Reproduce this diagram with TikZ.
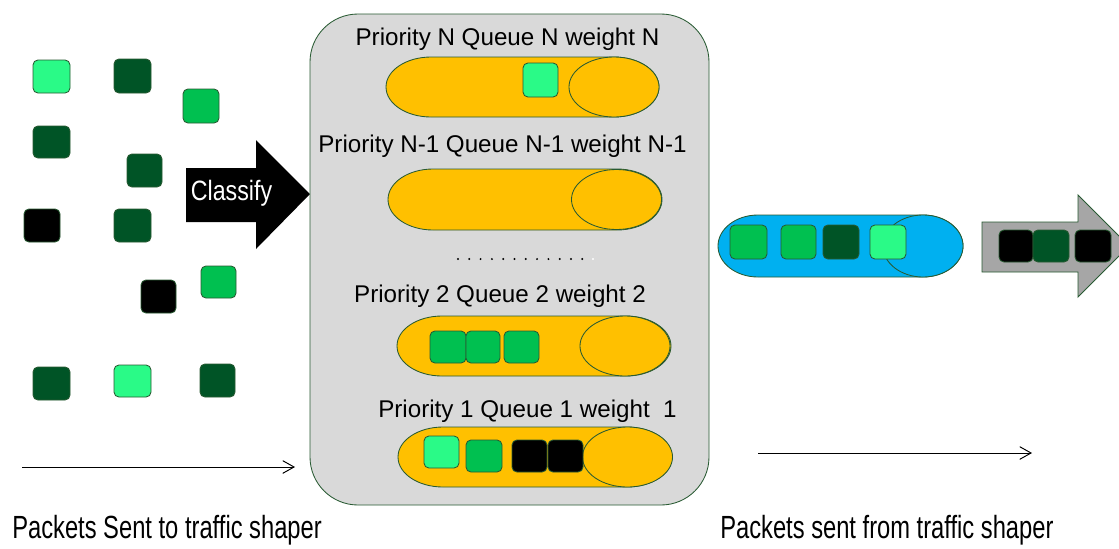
\documentclass[tikz,border=0pt]{standalone}
\usepackage{fontspec}
\setmainfont{Liberation Sans}
\usetikzlibrary{shapes.geometric,arrows.meta}
\definecolor{lgreen}{RGB}{42,250,135}
\definecolor{mgreen}{RGB}{0,192,80}
\definecolor{dgreen}{RGB}{0,84,38}
\definecolor{gold}{RGB}{255,192,0}
\definecolor{qblue}{RGB}{0,176,240}
\definecolor{boxgray}{RGB}{217,217,217}
\definecolor{arrgray}{RGB}{166,166,166}
\definecolor{edge}{RGB}{40,90,50}
\newcommand{\pkt}[5]{\draw[pkt, fill=#1] (#2,#3) rectangle (#4,#5);}
\newcommand{\capsule}[6]{\path[#1] ({#2+#6},#4) -- ({#3-#6},#4)
  arc[start angle=90,end angle=-90,x radius={#6*0.025cm},y radius={(#5-#4)/2*0.025cm}]
  -- ({#2+#6},#5)
  arc[start angle=270,end angle=90,x radius={#6*0.025cm},y radius={(#5-#4)/2*0.025cm}] -- cycle;}
\begin{document}
\begin{tikzpicture}[x=0.025cm,y=-0.025cm,
  pkt/.style={draw=edge, line width=0.6pt, rounded corners=3.5pt},
  qbody/.style={draw=edge, line width=0.6pt, fill=gold},
  headell/.style={ellipse, draw=edge, line width=0.6pt, fill=gold, minimum width=2.25cm, minimum height=1.5cm, inner sep=0pt},
  lbl/.style={font=\fontsize{17.2}{20}\selectfont, anchor=base, inner sep=0pt},
  botlbl/.style={font=\fontsize{22.8}{26}\selectfont, anchor=base west, inner sep=0pt},
  flow/.style={line width=0.7pt, -{Straight Barb[length=8pt,width=9pt]}},
  bigarrow/.style={line width=0.6pt, draw=edge}]
\path[use as bounding box, clip] (0,0) rectangle (1119,548);
\fill[white] (0,0) rectangle (1119,548);

% incoming packets
\pkt{lgreen}{33}{60}{70}{93}
\pkt{dgreen}{114}{59}{151}{93}
\pkt{mgreen}{183}{89}{219}{123}
\pkt{dgreen}{33}{126}{70}{158}
\pkt{dgreen}{127}{154}{162}{187}
\pkt{black}{24}{209}{60}{242}
\pkt{dgreen}{114}{209}{151}{242}
\pkt{black}{141}{280}{176}{313}
\pkt{mgreen}{201}{266}{236}{298}
\pkt{dgreen}{33}{367}{70}{400}
\pkt{lgreen}{114}{365}{151}{397}
\pkt{dgreen}{200}{364}{235}{397}

% classify arrow
\fill[black] (186,168) -- (256,168) -- (256,140) -- (310,194) -- (256,249) -- (256,222) -- (186,222) -- cycle;
\node[text=white, font=\fontsize{19.9}{22}\selectfont, anchor=base, inner sep=0pt] (cls) at (231.5,200) {\scalebox{0.83}[1]{Classify}};

% scheduler box
\draw[draw=edge, line width=0.6pt, fill=boxgray, rounded corners=1.2cm] (310,14) rectangle (709,505);

% queue N
\node[lbl] (pN) at (507.5,45) {Priority N Queue N weight N};
\capsule{qbody}{386}{659}{57}{117}{45}
\node[headell] (hN) at (614,87) {};
\pkt{lgreen}{523}{63}{558}{97}

% queue N-1
\node[lbl] (pN1) at (502.5,152) {Priority N-1 Queue N-1 weight N-1};
\capsule{qbody}{388}{662}{169}{230}{45}
\node[headell] (hN1) at (616.5,199.5) {};

% dots
\foreach \i in {0,...,11} \fill[black] ({458+\i*11.3},259) circle (1.1);
\fill[white] (593,259) circle (1.1);

% queue 2
\node[lbl] (p2) at (500,302) {Priority 2 Queue 2 weight 2};
\capsule{qbody}{397}{671}{316}{376}{45}
\node[headell] (h2) at (625,346) {};
\pkt{mgreen}{430}{331}{466}{363}
\pkt{mgreen}{466}{331}{500}{363}
\pkt{mgreen}{504}{331}{539}{363}

% queue 1
\node[lbl] (p1) at (527.5,417) {Priority 1 Queue 1 weight\ \ 1};
\capsule{qbody}{398}{672}{427}{487}{45}
\node[headell] (h1) at (627.5,457) {};
\pkt{lgreen}{424}{436}{459}{468}
\pkt{mgreen}{466}{440}{502}{472}
\pkt{black}{512}{440}{547}{472}
\pkt{black}{548}{440}{583}{472}

% output queue (blue)
\capsule{draw=edge, line width=0.6pt, fill=qblue}{718}{963}{215}{277}{40}
\node[ellipse, draw=edge, line width=0.6pt, fill=qblue, minimum width=2cm, minimum height=1.55cm, inner sep=0pt] (hb) at (923,246) {};
\pkt{mgreen}{730}{225}{767}{259}
\pkt{mgreen}{781}{225}{816}{259}
\pkt{dgreen}{823}{225}{859}{259}
\pkt{lgreen}{870}{225}{906}{259}

% gray output arrow
\draw[bigarrow, fill=arrgray] (982,222) -- (1078,222) -- (1078,195) -- (1129,246) -- (1078,297) -- (1078,272) -- (982,272) -- cycle;
\pkt{black}{999}{230}{1033}{262}
\pkt{dgreen}{1033}{230}{1069}{262}
\pkt{black}{1075}{230}{1111}{262}

% bottom flows
\coordinate (inS) at (22,467);
\coordinate (inE) at (295,467);
\draw[flow] (inS) -- (inE);
\coordinate (outS) at (758,453);
\coordinate (outE) at (1032,453);
\draw[flow] (outS) -- (outE);

\node[botlbl] (sentTo) at (12,538) {\scalebox{0.74}[1]{Packets Sent to traffic shaper}};
\node[botlbl] (sentFrom) at (720,538) {\scalebox{0.74}[1]{Packets sent from traffic shaper}};
\end{tikzpicture}
\end{document}
